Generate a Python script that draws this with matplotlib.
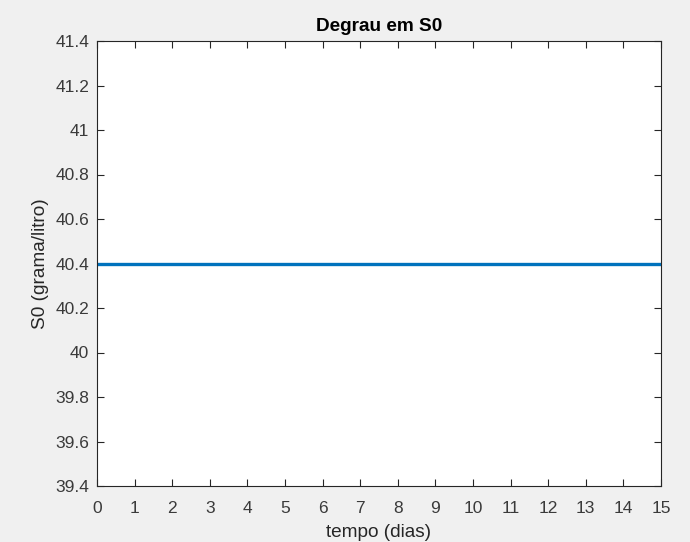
import matplotlib
matplotlib.use("Agg")
import matplotlib.pyplot as plt
import numpy as np

t_dias = [0, 15]
s0_vals = [40.4, 40.4]
x_ticks = list(range(0, 16))
y_ticks = [39.4, 39.6, 39.8, 40.0, 40.2, 40.4, 40.6, 40.8, 41.0, 41.2, 41.4]
y_labels = ["39.4", "39.6", "39.8", "40", "40.2", "40.4", "40.6", "40.8", "41", "41.2", "41.4"]

plt.rcParams['font.family'] = ['Liberation Sans', 'DejaVu Sans']
fig = plt.figure(figsize=(6.9, 5.42), dpi=100, facecolor='#f0f0f0')
ax = fig.add_axes([97/690, 1-486/542, (661-97)/690, (486-41)/542])
ax.set_facecolor('white')
ax.plot(t_dias, s0_vals, color='#0072BD', lw=2.4)
ax.set_xlim(0, 15)
ax.set_ylim(39.4, 41.4)
ax.set_xticks(x_ticks)
ax.set_yticks(y_ticks)
ax.set_yticklabels(y_labels)
ax.tick_params(direction='in', length=5, width=0.8, top=True, right=True,
               colors='#262626', labelsize=12.5)
ax.tick_params(axis='x', pad=10.5, labelcolor='#3a3a3a')
ax.tick_params(axis='y', pad=5.5, labelcolor='#3a3a3a')
for s in ax.spines.values():
    s.set_color('#262626')
    s.set_linewidth(0.8)
ax.set_title('Degrau em S0', fontsize=13.7, fontweight='bold', color='#000000', pad=7)
ax.set_xlabel('tempo (dias)', fontsize=13.7, color='#262626', labelpad=6)
ax.set_ylabel('S0 (grama/litro)', fontsize=13.7, color='#262626', labelpad=4.5)
fig.savefig('out.png', dpi=100, facecolor=fig.get_facecolor())
